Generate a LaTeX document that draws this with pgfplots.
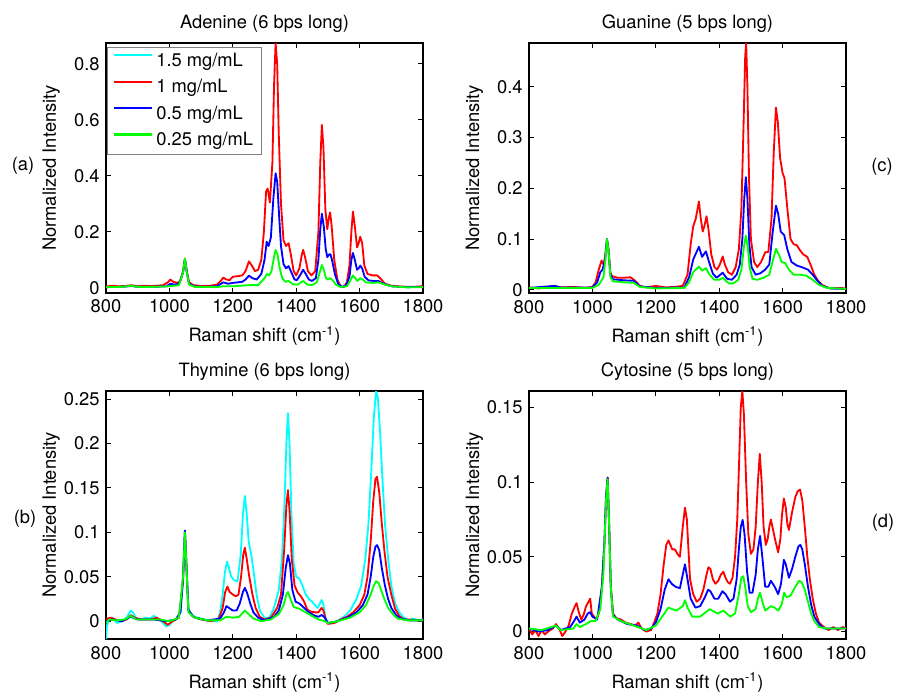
\documentclass[border=0pt]{standalone}
\usepackage{fontspec}
\setmainfont{TeX Gyre Heros}
\usepackage{pgfplots}
\pgfplotsset{compat=1.18}
\definecolor{mred}{rgb}{1,0,0}
\definecolor{mgreen}{rgb}{0,1,0}
\definecolor{mblue}{rgb}{0,0,1}
\definecolor{mcyan}{rgb}{0,1,1}
\pgfplotsset{
  myax/.style={
    scale only axis, width=190.2pt, anchor=north west,
    xmin=800, xmax=1800, xtick={800,1000,...,1800},
    tick align=inside, tick pos=both, ticklabel pos=left,
    major tick length=3pt,
    every tick/.style={black, line width=0.6pt},
    axis line style={line width=0.7pt},
    /pgf/number format/assume math mode=true,
    /pgf/number format/1000 sep={},
    scaled y ticks=false,
    yticklabel style={/pgf/number format/fixed, /pgf/number format/precision=2},
    xticklabel style={anchor=base, yshift=-12pt},
    every axis title/.style={at={(axis description cs:0.5,1)}, anchor=base, yshift=9pt},
    every axis x label/.style={at={(axis description cs:0.5,0)}, anchor=base, yshift=-29.4pt},
    every axis y label/.style={at={([xshift=-30pt]axis description cs:0,0.5)}, rotate=90, anchor=base},
    xlabel={Raman shift (cm\textsuperscript{-1})},
    ylabel={Normalized Intensity},
    every axis plot/.append style={line width=1.1pt, line join=round},
  }
}
\begin{document}
\fontsize{11}{13}\selectfont
\begin{tikzpicture}
\useasboundingbox (0,0) rectangle (540.6pt,-417.6pt);
% (a) Adenine
\begin{axis}[myax, at={(63.6pt,-25.8pt)}, height=150pt,
  ymin=-0.018, ymax=0.875, ytick={0,0.2,0.4,0.6,0.8},
  title={Adenine (6 bps long)},
  legend cell align=left,
  legend image code/.code={\draw[#1] (0pt,3.6pt) -- (23pt,3.6pt);},
  legend style={at={(axis description cs:0,1)}, anchor=north west, xshift=0.6pt, yshift=-2.4pt,
    draw=gray, fill=white, inner xsep=3pt, inner ysep=1.5pt, row sep=2.2pt},
]
\addlegendimage{mcyan, line width=1.4pt}
\addlegendentry{1.5 mg/mL}
\addlegendimage{mred, line width=1.4pt}
\addlegendentry{1 mg/mL}
\addlegendimage{mblue, line width=1.4pt}
\addlegendentry{0.5 mg/mL}
\addlegendimage{mgreen, line width=1.4pt}
\addlegendentry{0.25 mg/mL}
\addplot[mred, forget plot] coordinates {(800,0.005)(820,0.008)(840,0.006)(860,0.007)(880,0.010)(900,0.006)(920,0.008)(940,0.007)(960,0.008)(980,0.010)(995,0.020)(1003,0.030)(1012,0.022)(1025,0.018)(1035,0.025)(1043,0.06)(1049,0.105)(1055,0.06)(1062,0.02)(1075,0.010)(1100,0.007)(1130,0.008)(1150,0.012)(1162,0.025)(1170,0.037)(1180,0.030)(1190,0.028)(1200,0.040)(1215,0.042)(1230,0.045)(1240,0.060)(1251,0.095)(1260,0.080)(1270,0.060)(1280,0.065)(1290,0.100)(1298,0.200)(1305,0.345)(1310,0.355)(1317,0.305)(1325,0.45)(1330,0.72)(1335,0.875)(1340,0.80)(1345,0.55)(1352,0.30)(1360,0.17)(1368,0.15)(1376,0.160)(1383,0.12)(1392,0.06)(1400,0.045)(1410,0.07)(1418,0.12)(1422,0.136)(1428,0.11)(1437,0.06)(1448,0.045)(1460,0.06)(1470,0.20)(1476,0.45)(1481,0.582)(1486,0.50)(1492,0.28)(1498,0.21)(1503,0.25)(1507,0.27)(1512,0.22)(1520,0.10)(1530,0.03)(1540,0.005)(1550,0.003)(1560,0.02)(1568,0.08)(1574,0.20)(1579,0.273)(1585,0.22)(1592,0.145)(1597,0.16)(1602,0.183)(1608,0.16)(1615,0.08)(1625,0.05)(1640,0.045)(1655,0.045)(1665,0.035)(1680,0.015)(1700,0.008)(1730,0.005)(1760,0.004)(1790,0.005)(1800,0.008)};
\addplot[mblue, forget plot] coordinates {(800,0.003)(850,0.004)(880,0.007)(900,0.004)(950,0.004)(990,0.006)(1003,0.015)(1015,0.012)(1030,0.015)(1043,0.055)(1049,0.103)(1055,0.055)(1062,0.015)(1080,0.005)(1120,0.004)(1150,0.006)(1170,0.020)(1185,0.015)(1200,0.018)(1230,0.022)(1240,0.030)(1251,0.044)(1262,0.035)(1275,0.03)(1290,0.05)(1300,0.10)(1307,0.165)(1313,0.15)(1320,0.18)(1328,0.32)(1335,0.41)(1340,0.38)(1346,0.26)(1352,0.15)(1360,0.085)(1368,0.07)(1376,0.078)(1385,0.055)(1395,0.03)(1402,0.028)(1412,0.045)(1422,0.065)(1430,0.05)(1440,0.03)(1450,0.025)(1462,0.035)(1470,0.10)(1476,0.21)(1481,0.265)(1487,0.22)(1493,0.14)(1498,0.11)(1504,0.12)(1508,0.12)(1513,0.10)(1522,0.05)(1532,0.015)(1545,0.003)(1558,0.01)(1568,0.04)(1574,0.10)(1579,0.125)(1585,0.10)(1592,0.065)(1597,0.07)(1602,0.08)(1608,0.07)(1616,0.04)(1628,0.027)(1645,0.025)(1660,0.025)(1675,0.015)(1700,0.006)(1750,0.003)(1800,0.004)};
\addplot[mgreen, forget plot] coordinates {(800,0.003)(850,0.004)(880,0.008)(900,0.004)(950,0.004)(1000,0.006)(1030,0.01)(1043,0.055)(1049,0.105)(1055,0.055)(1062,0.012)(1080,0.004)(1150,0.003)(1170,0.006)(1200,0.006)(1250,0.010)(1280,0.010)(1300,0.035)(1308,0.05)(1315,0.045)(1322,0.06)(1330,0.11)(1335,0.136)(1341,0.12)(1348,0.07)(1356,0.035)(1366,0.022)(1376,0.025)(1390,0.013)(1405,0.012)(1422,0.025)(1435,0.012)(1450,0.010)(1465,0.02)(1474,0.055)(1481,0.082)(1487,0.065)(1494,0.035)(1500,0.03)(1507,0.035)(1515,0.028)(1525,0.012)(1540,0.003)(1560,0.006)(1570,0.025)(1579,0.045)(1586,0.035)(1593,0.025)(1602,0.035)(1610,0.03)(1620,0.02)(1640,0.018)(1660,0.02)(1680,0.012)(1700,0.006)(1750,0.002)(1800,0.003)};
\end{axis}
% (c) Guanine
\begin{axis}[myax, at={(317.4pt,-25.8pt)}, height=150pt,
  ymin=-0.006, ymax=0.486, ytick={0,0.1,0.2,0.3,0.4},
  title={Guanine (5 bps long)}]
\addplot[mred] coordinates {(800,0.005)(830,0.003)(860,0.005)(880,0.008)(900,0.005)(940,0.006)(980,0.004)(1000,0.006)(1010,0.015)(1020,0.040)(1029,0.058)(1035,0.050)(1040,0.065)(1046,0.10)(1051,0.08)(1056,0.035)(1062,0.027)(1080,0.024)(1100,0.024)(1120,0.025)(1135,0.018)(1150,0.008)(1170,0.005)(1200,0.008)(1230,0.005)(1260,0.006)(1285,0.008)(1300,0.03)(1310,0.09)(1318,0.125)(1326,0.14)(1336,0.174)(1342,0.14)(1348,0.115)(1353,0.125)(1360,0.145)(1366,0.12)(1375,0.07)(1385,0.045)(1393,0.04)(1402,0.05)(1411,0.066)(1418,0.05)(1428,0.035)(1440,0.03)(1452,0.045)(1462,0.08)(1470,0.16)(1477,0.33)(1482,0.46)(1485,0.486)(1489,0.40)(1494,0.22)(1500,0.10)(1510,0.055)(1520,0.045)(1532,0.055)(1545,0.074)(1555,0.075)(1565,0.14)(1572,0.27)(1579,0.359)(1585,0.33)(1592,0.26)(1600,0.23)(1606,0.22)(1615,0.16)(1625,0.10)(1635,0.09)(1645,0.088)(1655,0.078)(1665,0.07)(1678,0.065)(1688,0.05)(1700,0.03)(1712,0.018)(1725,0.01)(1740,0.005)(1760,0.003)(1780,0.004)(1800,0.003)};
\addplot[mblue] coordinates {(800,0.004)(880,0.008)(900,0.005)(1000,0.005)(1015,0.015)(1025,0.035)(1032,0.04)(1040,0.06)(1046,0.10)(1051,0.075)(1057,0.03)(1065,0.021)(1100,0.019)(1130,0.018)(1150,0.007)(1200,0.004)(1290,0.005)(1305,0.025)(1318,0.06)(1336,0.085)(1346,0.065)(1358,0.076)(1368,0.055)(1380,0.032)(1392,0.024)(1411,0.034)(1425,0.022)(1440,0.02)(1455,0.03)(1465,0.05)(1473,0.10)(1479,0.18)(1484,0.222)(1489,0.18)(1495,0.09)(1502,0.045)(1515,0.03)(1530,0.033)(1545,0.040)(1558,0.05)(1568,0.11)(1579,0.166)(1586,0.15)(1594,0.115)(1605,0.108)(1615,0.08)(1628,0.055)(1645,0.048)(1660,0.045)(1680,0.04)(1695,0.03)(1710,0.018)(1725,0.008)(1750,0.003)(1800,0.002)};
\addplot[mgreen] coordinates {(800,0.004)(900,0.004)(1000,0.004)(1020,0.01)(1035,0.025)(1041,0.06)(1046,0.10)(1051,0.075)(1057,0.025)(1065,0.017)(1100,0.015)(1130,0.014)(1150,0.006)(1200,0.003)(1290,0.004)(1305,0.015)(1318,0.035)(1336,0.046)(1346,0.038)(1358,0.043)(1370,0.03)(1385,0.02)(1400,0.02)(1411,0.024)(1430,0.013)(1445,0.013)(1460,0.02)(1470,0.04)(1478,0.085)(1484,0.107)(1490,0.085)(1496,0.045)(1505,0.022)(1520,0.02)(1540,0.024)(1558,0.03)(1568,0.055)(1579,0.081)(1588,0.07)(1597,0.055)(1608,0.053)(1620,0.04)(1635,0.03)(1655,0.03)(1675,0.028)(1695,0.02)(1715,0.01)(1740,0.004)(1800,0.002)};
\end{axis}
% (b) Thymine
\begin{axis}[myax, at={(63.6pt,-234.6pt)}, height=148.8pt,
  ymin=-0.02, ymax=0.259, ytick={0,0.05,0.1,0.15,0.2,0.25},
  title={Thymine (6 bps long)}]
\addplot[mcyan] coordinates {(800,-0.02)(803,-0.005)(810,0.002)(820,0.004)(835,-0.002)(850,0.000)(865,0.004)(878,0.012)(885,0.010)(895,0.003)(910,0.002)(925,0.004)(940,0.003)(950,0.006)(960,0.004)(975,0.000)(990,-0.006)(1000,-0.004)(1010,0.000)(1025,0.003)(1035,0.01)(1043,0.045)(1049,0.102)(1054,0.06)(1060,0.015)(1070,0.006)(1090,0.004)(1110,0.002)(1130,0.000)(1150,0.000)(1160,0.01)(1168,0.03)(1175,0.055)(1182,0.067)(1188,0.06)(1195,0.05)(1205,0.046)(1215,0.045)(1225,0.075)(1232,0.12)(1238,0.141)(1244,0.12)(1250,0.09)(1258,0.075)(1266,0.055)(1275,0.03)(1285,0.012)(1300,0.004)(1315,0.004)(1330,0.015)(1345,0.035)(1355,0.07)(1363,0.13)(1369,0.2)(1374,0.234)(1379,0.2)(1385,0.12)(1392,0.065)(1400,0.05)(1410,0.048)(1420,0.04)(1430,0.03)(1440,0.025)(1450,0.022)(1460,0.018)(1468,0.015)(1475,0.02)(1480,0.024)(1485,0.02)(1492,0.005)(1500,-0.002)(1515,-0.002)(1530,0.000)(1550,0.005)(1570,0.012)(1590,0.025)(1605,0.04)(1618,0.07)(1628,0.11)(1637,0.17)(1645,0.23)(1652,0.259)(1658,0.25)(1665,0.21)(1672,0.16)(1680,0.11)(1690,0.07)(1700,0.04)(1712,0.02)(1725,0.01)(1740,0.004)(1755,0.001)(1770,0.003)(1785,0.001)(1800,0.002)};
\addplot[mred] coordinates {(800,0.000)(805,0.003)(815,0.004)(830,0.002)(850,0.000)(865,0.002)(878,0.007)(890,0.004)(910,0.002)(940,0.002)(960,0.004)(980,0.000)(995,-0.004)(1010,0.000)(1030,0.004)(1043,0.045)(1049,0.101)(1054,0.06)(1060,0.012)(1075,0.005)(1100,0.002)(1130,0.000)(1155,0.002)(1168,0.015)(1176,0.033)(1183,0.039)(1190,0.033)(1200,0.03)(1210,0.028)(1218,0.03)(1226,0.05)(1233,0.075)(1238,0.0826)(1244,0.07)(1252,0.05)(1262,0.03)(1272,0.015)(1285,0.005)(1300,0.002)(1320,0.004)(1340,0.015)(1352,0.03)(1362,0.08)(1369,0.13)(1374,0.1475)(1379,0.125)(1386,0.07)(1395,0.04)(1405,0.032)(1415,0.028)(1425,0.022)(1435,0.013)(1445,0.011)(1460,0.01)(1470,0.01)(1480,0.015)(1486,0.012)(1493,0.002)(1500,-0.003)(1520,-0.002)(1540,0.002)(1560,0.005)(1580,0.01)(1600,0.018)(1615,0.03)(1625,0.05)(1635,0.09)(1643,0.135)(1650,0.16)(1655,0.1625)(1662,0.145)(1670,0.11)(1678,0.08)(1688,0.05)(1700,0.03)(1712,0.014)(1725,0.006)(1740,0.002)(1760,0.002)(1780,0.001)(1800,0.001)};
\addplot[mblue] coordinates {(800,0.000)(820,0.002)(850,0.000)(878,0.005)(900,0.002)(950,0.002)(990,0.000)(1020,0.002)(1035,0.01)(1043,0.05)(1049,0.102)(1054,0.06)(1060,0.012)(1080,0.004)(1120,0.001)(1160,0.003)(1172,0.01)(1180,0.017)(1188,0.015)(1200,0.012)(1212,0.012)(1222,0.02)(1232,0.033)(1238,0.0375)(1245,0.032)(1255,0.02)(1265,0.01)(1280,0.004)(1300,0.001)(1330,0.005)(1345,0.012)(1358,0.03)(1367,0.06)(1374,0.0743)(1380,0.065)(1388,0.035)(1398,0.022)(1410,0.02)(1425,0.015)(1440,0.01)(1460,0.006)(1470,0.005)(1480,0.007)(1488,0.005)(1500,-0.002)(1530,0.000)(1560,0.004)(1590,0.01)(1610,0.018)(1625,0.03)(1635,0.05)(1643,0.072)(1650,0.084)(1655,0.0856)(1662,0.08)(1670,0.06)(1680,0.04)(1690,0.025)(1700,0.015)(1715,0.007)(1730,0.003)(1760,0.001)(1800,0.001)};
\addplot[mgreen] coordinates {(800,-0.002)(810,0.002)(830,0.001)(860,0.002)(878,0.006)(895,0.002)(930,0.002)(970,0.002)(1000,0.000)(1030,0.004)(1043,0.05)(1049,0.1)(1054,0.06)(1060,0.01)(1080,0.004)(1120,0.001)(1160,0.001)(1180,0.005)(1200,0.004)(1220,0.005)(1238,0.012)(1250,0.008)(1265,0.003)(1290,0.000)(1320,0.002)(1345,0.008)(1360,0.018)(1369,0.03)(1374,0.033)(1382,0.025)(1392,0.016)(1410,0.014)(1430,0.01)(1450,0.006)(1470,0.002)(1490,0.000)(1500,-0.002)(1530,0.000)(1570,0.004)(1600,0.01)(1620,0.018)(1635,0.03)(1645,0.04)(1652,0.045)(1660,0.043)(1668,0.035)(1678,0.025)(1690,0.015)(1705,0.008)(1720,0.003)(1750,0.001)(1800,0.001)};
\end{axis}
% (d) Cytosine
\begin{axis}[myax, at={(317.4pt,-234.6pt)}, height=148.8pt,
  ymin=-0.005, ymax=0.161, ytick={0,0.05,0.1,0.15},
  title={Cytosine (5 bps long)}]
\addplot[mred] coordinates {(800,0.002)(810,-0.002)(820,0.001)(830,-0.003)(840,0.001)(850,-0.002)(860,0.000)(875,0.002)(885,0.005)(895,0.002)(905,-0.003)(915,0.000)(925,0.004)(935,0.012)(945,0.017)(950,0.019)(957,0.013)(965,0.008)(972,0.011)(980,0.017)(988,0.020)(993,0.022)(998,0.012)(1005,0.010)(1012,0.008)(1020,0.012)(1030,0.03)(1038,0.06)(1043,0.09)(1048,0.103)(1053,0.07)(1058,0.03)(1065,0.012)(1075,0.009)(1090,0.008)(1105,0.006)(1120,0.005)(1135,0.004)(1145,0.006)(1155,0.002)(1170,0.000)(1185,0.001)(1195,0.006)(1205,0.012)(1215,0.025)(1225,0.045)(1233,0.058)(1240,0.061)(1246,0.058)(1252,0.055)(1260,0.055)(1268,0.052)(1276,0.050)(1285,0.070)(1292,0.083)(1298,0.075)(1308,0.035)(1318,0.025)(1329,0.020)(1340,0.022)(1350,0.028)(1360,0.038)(1366,0.043)(1372,0.042)(1380,0.035)(1388,0.032)(1397,0.034)(1405,0.038)(1413,0.040)(1420,0.036)(1427,0.033)(1434,0.032)(1442,0.036)(1450,0.05)(1457,0.075)(1463,0.115)(1468,0.15)(1473,0.161)(1478,0.145)(1485,0.1)(1492,0.065)(1500,0.052)(1508,0.055)(1515,0.07)(1522,0.1)(1528,0.119)(1534,0.1)(1540,0.07)(1547,0.058)(1553,0.062)(1558,0.07)(1563,0.075)(1570,0.068)(1578,0.06)(1586,0.053)(1593,0.062)(1598,0.078)(1604,0.089)(1610,0.083)(1615,0.072)(1620,0.068)(1630,0.08)(1640,0.09)(1648,0.094)(1655,0.095)(1662,0.088)(1670,0.07)(1678,0.05)(1686,0.035)(1695,0.022)(1705,0.012)(1715,0.006)(1730,0.003)(1745,0.001)(1760,0.003)(1775,0.001)(1790,0.003)(1800,0.002)};
\addplot[mblue] coordinates {(800,0.002)(830,0.000)(860,0.001)(885,0.004)(900,0.001)(930,0.003)(945,0.008)(950,0.01)(960,0.006)(975,0.008)(985,0.012)(993,0.013)(1000,0.01)(1015,0.008)(1030,0.03)(1038,0.06)(1043,0.09)(1048,0.103)(1053,0.07)(1058,0.03)(1065,0.011)(1080,0.008)(1110,0.005)(1140,0.004)(1165,0.001)(1185,0.002)(1200,0.006)(1215,0.015)(1228,0.028)(1240,0.035)(1250,0.032)(1262,0.03)(1276,0.029)(1285,0.038)(1292,0.045)(1300,0.035)(1310,0.022)(1325,0.016)(1340,0.017)(1355,0.023)(1365,0.028)(1372,0.027)(1385,0.022)(1397,0.022)(1410,0.027)(1420,0.025)(1434,0.02)(1445,0.022)(1455,0.035)(1462,0.055)(1468,0.07)(1474,0.0747)(1480,0.065)(1488,0.04)(1496,0.026)(1505,0.026)(1515,0.038)(1522,0.055)(1529,0.064)(1536,0.05)(1545,0.03)(1555,0.03)(1563,0.034)(1575,0.03)(1586,0.025)(1595,0.032)(1604,0.048)(1610,0.045)(1620,0.036)(1630,0.042)(1640,0.05)(1650,0.057)(1656,0.058)(1662,0.055)(1670,0.045)(1680,0.03)(1690,0.018)(1700,0.01)(1715,0.005)(1730,0.002)(1760,0.002)(1800,0.002)};
\addplot[mgreen] coordinates {(800,0.002)(840,0.001)(885,0.004)(900,0.001)(940,0.002)(950,0.005)(960,0.003)(980,0.005)(995,0.007)(1010,0.007)(1025,0.015)(1035,0.04)(1043,0.088)(1048,0.102)(1053,0.07)(1058,0.03)(1065,0.01)(1090,0.007)(1130,0.004)(1170,0.001)(1200,0.004)(1220,0.01)(1240,0.016)(1265,0.014)(1285,0.017)(1292,0.021)(1300,0.016)(1315,0.01)(1340,0.01)(1370,0.015)(1395,0.012)(1413,0.014)(1435,0.01)(1450,0.012)(1462,0.025)(1470,0.036)(1476,0.037)(1482,0.03)(1490,0.017)(1500,0.013)(1515,0.015)(1522,0.022)(1529,0.026)(1536,0.02)(1545,0.014)(1563,0.017)(1575,0.016)(1586,0.014)(1597,0.018)(1605,0.026)(1612,0.023)(1625,0.024)(1640,0.03)(1652,0.034)(1660,0.033)(1670,0.028)(1680,0.02)(1690,0.012)(1700,0.007)(1715,0.003)(1740,0.002)(1800,0.002)};
\end{axis}
\node[anchor=base] at (13.8pt,-102pt) {(a)};
\node[anchor=base] at (529.2pt,-102.6pt) {(c)};
\node[anchor=base] at (15pt,-313.8pt) {(b)};
\node[anchor=base] at (529.8pt,-316.2pt) {(d)};
\end{tikzpicture}
\end{document}
